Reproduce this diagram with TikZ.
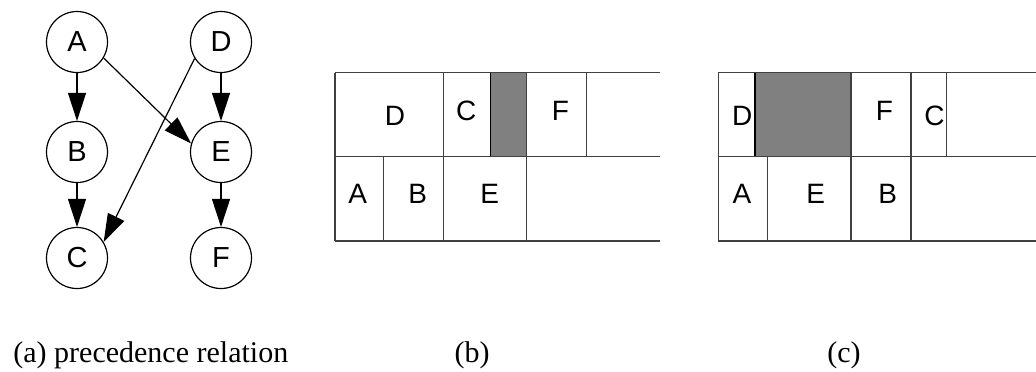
\documentclass[tikz,border=0pt]{standalone}
\usepackage{fontspec}
\setmainfont{Liberation Serif}
\setsansfont{Liberation Sans}
\usetikzlibrary{arrows.meta,positioning}
\tikzset{
  vtx/.style={circle,draw,line width=0.6pt,minimum size=30.5pt,inner sep=0pt,font=\sffamily\fontsize{14.5}{16}\selectfont},
  dep/.style={line width=0.6pt,-{Triangle[length=14pt,width=9pt]}},
  lbl/.style={inner sep=0pt,font=\sffamily\fontsize{14}{16}\selectfont},
  subcap/.style={inner sep=0pt,anchor=base,font=\fontsize{15}{18}\selectfont},
  grid/.style={line width=0.6pt,draw=black!75},
  idle/.style={fill=black!50,draw=black,line width=0.6pt}
}

\begin{document}
\begin{tikzpicture}[x=0.5pt,y=-0.5pt]
\useasboundingbox (0,0) rectangle (1036,371);

% (a) precedence graph
\node (A) at (77,42) [vtx] {A};
\node (B) at (77,152) [vtx] {B};
\node (C) at (77,258) [vtx] {C};
\node (D) at (221,42) [vtx] {D};
\node (E) at (221,152) [vtx] {E};
\node (F) at (221,258) [vtx] {F};

\draw[dep] (A) -- (B);
\draw[dep] (B) -- (C);
\draw[dep] (D) -- (E);
\draw[dep] (E) -- (F);
\draw[dep] (A.-31) -- (E.164);
\draw[dep] (D.212) -- (C.31);

% (b)
\filldraw[idle] (490.7,72.7) rectangle (526.7,156.7);
\foreach \y in {72.7,156.7,241} {
\draw[grid] (335,\y) -- (660,\y);
}
\foreach \x in {335,443.3,526.7} {
\draw[grid] (\x,72.7) -- (\x,241);
}
\foreach \x in {586.7} {
\draw[grid] (\x,72.7) -- (\x,156.7);
}
\draw[grid] (383.3,156.7) -- (383.3,241);

\node (bD) at (395,116) [lbl] {D};
\node (bC) at (466.3,110.7) [lbl] {C};
\node (bF) at (560.3,111) [lbl] {F};
\node (bA) at (357.8,194) [lbl] {A};
\node (bB) at (417.8,194) [lbl] {B};
\node (bE) at (489.7,194) [lbl] {E};

% (c)
\filldraw[idle] (755,72.7) rectangle (851,156.7);
\foreach \y in {72.7,156.7,241} {
\draw[grid] (718.3,\y) -- (1036,\y);
}
\foreach \x in {718.3,851,911} {
\draw[grid] (\x,72.7) -- (\x,241);
}
\draw[grid] (946.7,72.7) -- (946.7,156.7);
\draw[grid] (767.3,156.7) -- (767.3,241);

\node (cD) at (742.2,116) [lbl] {D};
\node (cF) at (884.5,110.8) [lbl] {F};
\node (cC) at (934.5,116) [lbl] {C};
\node (cA) at (742,194) [lbl] {A};
\node (cE) at (815.7,194) [lbl] {E};
\node (cB) at (887.8,194) [lbl] {B};

% captions
\node (capa) at (13,362) [subcap,anchor=base west] {(a) precedence relation};
\node (capb) at (472,362) [subcap] {(b)};
\node (capc) at (844,362) [subcap] {(c)};
\end{tikzpicture}
\end{document}
